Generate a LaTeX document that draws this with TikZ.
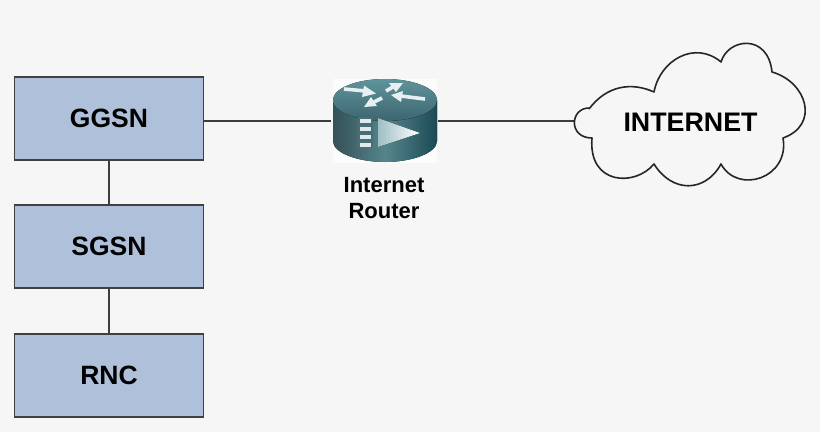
\documentclass[tikz,border=0pt]{standalone}
\usepackage{fontspec}
\setmainfont{Liberation Sans}
\definecolor{bgc}{HTML}{F6F6F6}
\definecolor{boxc}{HTML}{AEC0DA}
\definecolor{linec}{HTML}{3C3C3C}
\definecolor{rdark}{HTML}{1B4A55}
\definecolor{rmid}{HTML}{5F949C}
\definecolor{rtop}{HTML}{3F7780}
\begin{document}
\begin{tikzpicture}[x=1pt,y=-1pt,
  netbox/.style={draw=black!75,line width=1.6pt,fill=boxc,minimum width=189pt,minimum height=83pt,inner sep=0pt,font=\bfseries\fontsize{26.5}{26.5}\selectfont},
  link/.style={draw=linec,line width=1.5pt},
  cloudline/.style={draw=black!85,line width=1.6pt,line join=round},
  arrowmark/.style={draw=white!85!rmid,line width=3.6pt,line cap=butt},
  arrowhead/.style={fill=white!85!rmid,draw=none}]
\useasboundingbox (0,0) rectangle (820,432);
\fill[bgc] (0,0) rectangle (820,432);
% boxes
\node[netbox] (ggsn) at (109,118.5) {GGSN};
\node[netbox] (sgsn) at (109,246.5) {SGSN};
\node[netbox] (rnc) at (109,375.5) {RNC};
\draw[link] (ggsn) -- (sgsn);
\draw[link] (sgsn) -- (rnc);
% router
\node[minimum width=104pt,minimum height=84pt,inner sep=0pt,fill=white!70!bgc] (router) at (385,121) {};
\fill[left color=rmid!55!black,right color=rdark,middle color=rmid!90!black] (333,100) -- (333,141)
  .. controls (333,153) and (358,162) .. (385,162) .. controls (412,162) and (437,153) .. (437,141) -- (437,100) -- cycle;
\fill[top color=rmid,bottom color=rdark!85] (385,100) ellipse [x radius=52,y radius=21];
% top arrows
\draw[arrowmark] (344,89) -- (366,91);
\fill[arrowhead] (364,85.5) -- (376,93.5) -- (362,97) -- cycle;
\draw[arrowmark] (386,91) -- (393,87);
\fill[arrowhead] (389,83) -- (403,83) -- (396,92) -- cycle;
\draw[arrowmark] (425,99) -- (401,96);
\fill[arrowhead] (403,91) -- (391,95) -- (401,102) -- cycle;
\draw[arrowmark] (382,98) -- (374,102);
\fill[arrowhead] (377,106) -- (364,107) -- (371,97) -- cycle;
% front
\fill[rdark!80] (358,117) rectangle (373,148);
\foreach \yy in {119,127,135,143}{\fill[white!80!rmid] (360,\yy) rectangle (371,\yy+4);}
\fill[left color=rmid!60!white,right color=white] (378,118) -- (420,133) -- (378,147) -- cycle;
% links
\draw[link] (204,121) -- (331,121);
\coordinate (cloudw) at (576,121);
\draw[link] (438,121) -- (cloudw);
% cloud
\draw[cloudline,fill=bgc] (589,109)
  .. controls (607,85) and (632,82) .. (654,92)
  .. controls (660,60) and (695,40) .. (721,62)
  .. controls (728,38) and (768,33) .. (772,72)
  .. controls (807,82) and (820,125) .. (783,138)
  .. controls (790,178) and (738,195) .. (721,164)
  .. controls (705,193) and (672,193) .. (654,164)
  .. controls (635,187) and (588,185) .. (592,138)
  .. controls (568,138) and (570,108) .. (589,108);
\node[font=\bfseries\fontsize{26.8}{26.8}\selectfont,inner sep=0pt] (inet) at (690.5,122.5) {INTERNET};
\node[font=\bfseries\fontsize{22}{26}\selectfont,align=center,inner sep=0pt] (rlabel) at (384,198.5) {Internet\\Router};
\end{tikzpicture}
\end{document}
